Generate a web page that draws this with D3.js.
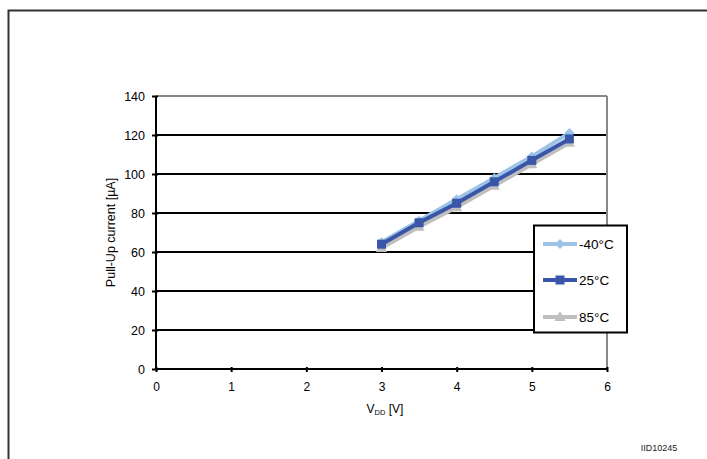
<!DOCTYPE html>
<html><head><meta charset="utf-8">
<script src="https://cdn.jsdelivr.net/npm/d3@7"></script>
<style>body{margin:0;background:#fff}svg{display:block}text{font-family:"Liberation Sans",Arial,sans-serif}</style>
</head><body>
<svg id="c" width="707" height="459"></svg>
<script>
const vdd = [3, 3.5, 4, 4.5, 5, 5.5];
const seriesNames = ["-40°C", "25°C", "85°C"];
const iMinus40 = [65, 76, 87, 98, 109, 121];
const i25 = [64, 75, 85, 96, 107, 118];
const i85 = [62, 73, 83, 94, 105, 116];
const xTicks = [0, 1, 2, 3, 4, 5, 6];
const yTicks = [0, 20, 40, 60, 80, 100, 120, 140];

const svg = d3.select("#c");
svg.append("path").attr("d","M8.5,459 L8.5,10.5 L707,10.5").attr("fill","none").attr("stroke","#333").attr("stroke-width",2);

const x = d3.scaleLinear().domain([0,6]).range([156,607]);
const y = d3.scaleLinear().domain([0,140]).range([369,96]);

const g = svg.append("g");
yTicks.forEach(t=>{
  if(t===0) return;
  g.append("line").attr("x1",x(0)).attr("x2",x(6)).attr("y1",y(t)).attr("y2",y(t))
   .attr("stroke", t===140 ? "#888" : "#000").attr("stroke-width",2);
});
g.append("line").attr("x1",x(6)).attr("x2",x(6)).attr("y1",y(140)).attr("y2",y(0)).attr("stroke","#888").attr("stroke-width",2);

const xa = svg.append("g").attr("transform",`translate(0,${y(0)})`)
  .call(d3.axisBottom(x).tickValues(xTicks).tickFormat(d3.format("d")).tickSize(4).tickPadding(9));
xa.select(".domain").attr("stroke","#000").attr("stroke-width",2).attr("d",`M${x(0)},0H${x(6)}`);
xa.selectAll(".tick line").attr("stroke","#000").attr("stroke-width",2).attr("y1",-2).attr("y2",3);
xa.selectAll("text").attr("font-size",12).attr("fill","#000").attr("font-family","Liberation Sans, Arial, sans-serif");

const ya = svg.append("g").attr("transform",`translate(${x(0)},0)`)
  .call(d3.axisLeft(y).tickValues(yTicks).tickFormat(d3.format("d")).tickSize(4).tickPadding(7));
ya.select(".domain").attr("stroke","#000").attr("stroke-width",2).attr("d",`M0,${y(0)}V${y(140)}`);
ya.selectAll(".tick line").attr("stroke","#000").attr("stroke-width",2).attr("x1",-4).attr("x2",2);
ya.selectAll("text").attr("font-size",12.5).attr("fill","#000").attr("font-family","Liberation Sans, Arial, sans-serif");

svg.append("text").attr("transform",`translate(115,${(y(0)+y(140))/2}) rotate(-90)`)
  .attr("text-anchor","middle").attr("font-size",12.5).text("Pull-Up current [µA]");
const xt = svg.append("text").attr("x",385).attr("y",413).attr("text-anchor","middle").attr("font-size",12);
xt.append("tspan").text("V");
xt.append("tspan").attr("font-size",7.5).attr("dy",2).text("DD");
xt.append("tspan").attr("dy",-2).text(" [V]");

svg.append("text").attr("x",659).attr("y",451).attr("text-anchor","middle").attr("font-size",9).attr("fill","#222").text("IID10245");

const colors = ["#9DC3E6", "#3A56A8", "#BFBFBF"];
const data = [iMinus40, i25, i85];
const line = d3.line().x((d,i)=>x(vdd[i])).y(d=>y(d));

function marker(sel, type, cx, cy, color){
  if(type===0){
    sel.append("path").attr("d",`M${cx},${cy-5}L${cx+5},${cy}L${cx},${cy+5}L${cx-5},${cy}Z`).attr("fill",color);
  } else if(type===1){
    sel.append("rect").attr("x",cx-4.5).attr("y",cy-4.5).attr("width",9).attr("height",9).attr("fill",color);
  } else {
    sel.append("path").attr("d",`M${cx},${cy-6}L${cx+5.5},${cy+4}L${cx-5.5},${cy+4}Z`).attr("fill",color);
  }
}

[2,0,1].forEach(k=>{
  const s = svg.append("g");
  s.append("path").datum(data[k]).attr("d",line).attr("fill","none").attr("stroke",colors[k]).attr("stroke-width",4);
  data[k].forEach((v,i)=>marker(s,k,x(vdd[i]),y(v),colors[k]));
});

const lg = svg.append("g");
lg.append("rect").attr("x",534).attr("y",225.5).attr("width",93).attr("height",107).attr("fill","#fff").attr("stroke","#000").attr("stroke-width",2);
const ly = [244, 280, 317];
seriesNames.forEach((n,k)=>{
  lg.append("line").attr("x1",543).attr("x2",577).attr("y1",ly[k]).attr("y2",ly[k]).attr("stroke",colors[k]).attr("stroke-width",4);
  marker(lg,k,560,ly[k],colors[k]);
  lg.append("text").attr("x",579).attr("y",ly[k]+5).attr("font-size",13.5).text(n);
});
</script>
</body></html>
